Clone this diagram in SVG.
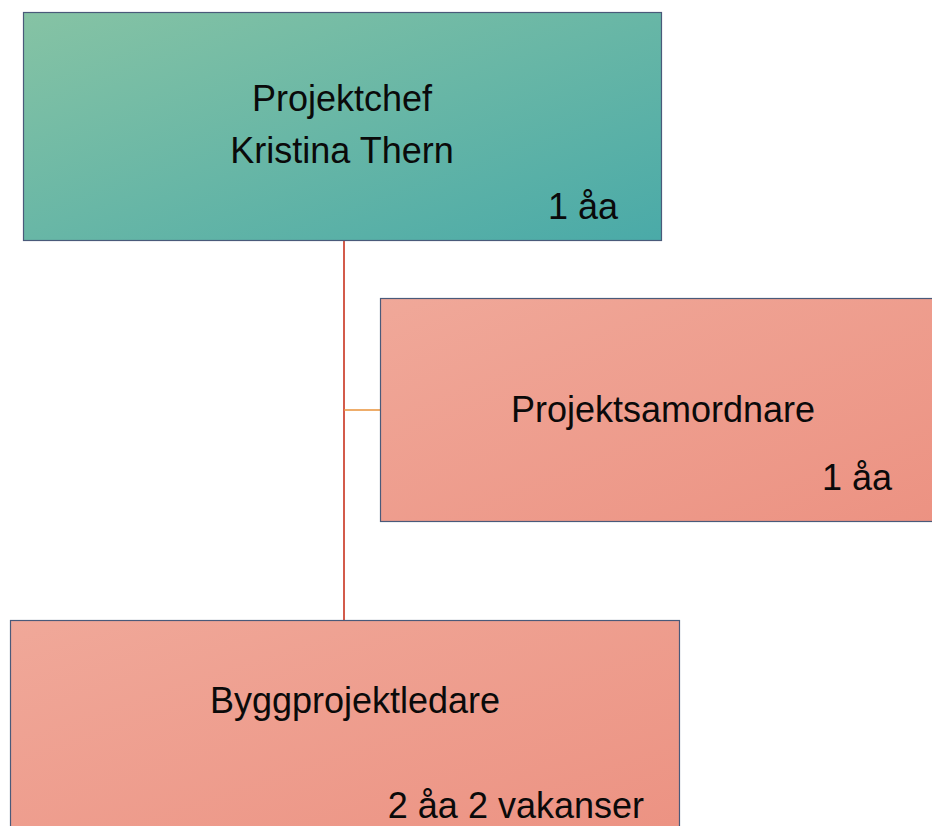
<svg xmlns="http://www.w3.org/2000/svg" width="932" height="826" viewBox="0 0 932 826">
  <defs>
    <linearGradient id="teal" x1="0" y1="0" x2="1" y2="1">
      <stop offset="0" stop-color="#86c3a4"/>
      <stop offset="1" stop-color="#4aaaa8"/>
    </linearGradient>
    <linearGradient id="salmon" x1="0" y1="0" x2="1" y2="1">
      <stop offset="0" stop-color="#f0a899"/>
      <stop offset="1" stop-color="#ec9282"/>
    </linearGradient>
  </defs>
  <style>
    .box { stroke: #4a5a7a; stroke-width: 1.2; }
    .lbl { font-family: "Liberation Sans", Arial, sans-serif; font-size: 36px; fill: #0a0a0a; }
    .mid { text-anchor: middle; }
    .end { text-anchor: end; }
  </style>
  <rect width="932" height="826" fill="#ffffff"/>

  <g id="connectors">
    <line x1="344" y1="240" x2="344" y2="620" stroke="#c8321e" stroke-width="1.6"/>
    <line x1="344" y1="410" x2="380" y2="410" stroke="#e8923a" stroke-width="1.6"/>
  </g>

  <g id="projektchef">
    <rect class="box" x="23.5" y="12.5" width="638" height="228" fill="url(#teal)"/>
    <text class="lbl mid" x="342" y="111">Projektchef</text>
    <text class="lbl mid" x="342" y="163">Kristina Thern</text>
    <text class="lbl end" x="618" y="219">1 åa</text>
  </g>

  <g id="projektsamordnare">
    <rect class="box" x="380.5" y="298.5" width="560" height="223" fill="url(#salmon)"/>
    <text class="lbl mid" x="663" y="422">Projektsamordnare</text>
    <text class="lbl end" x="892" y="490">1 åa</text>
  </g>

  <g id="byggprojektledare">
    <rect class="box" x="10.5" y="620.5" width="669" height="220" fill="url(#salmon)"/>
    <text class="lbl mid" x="355" y="713">Byggprojektledare</text>
    <text class="lbl end" x="644" y="818">2 åa 2 vakanser</text>
  </g>
</svg>
